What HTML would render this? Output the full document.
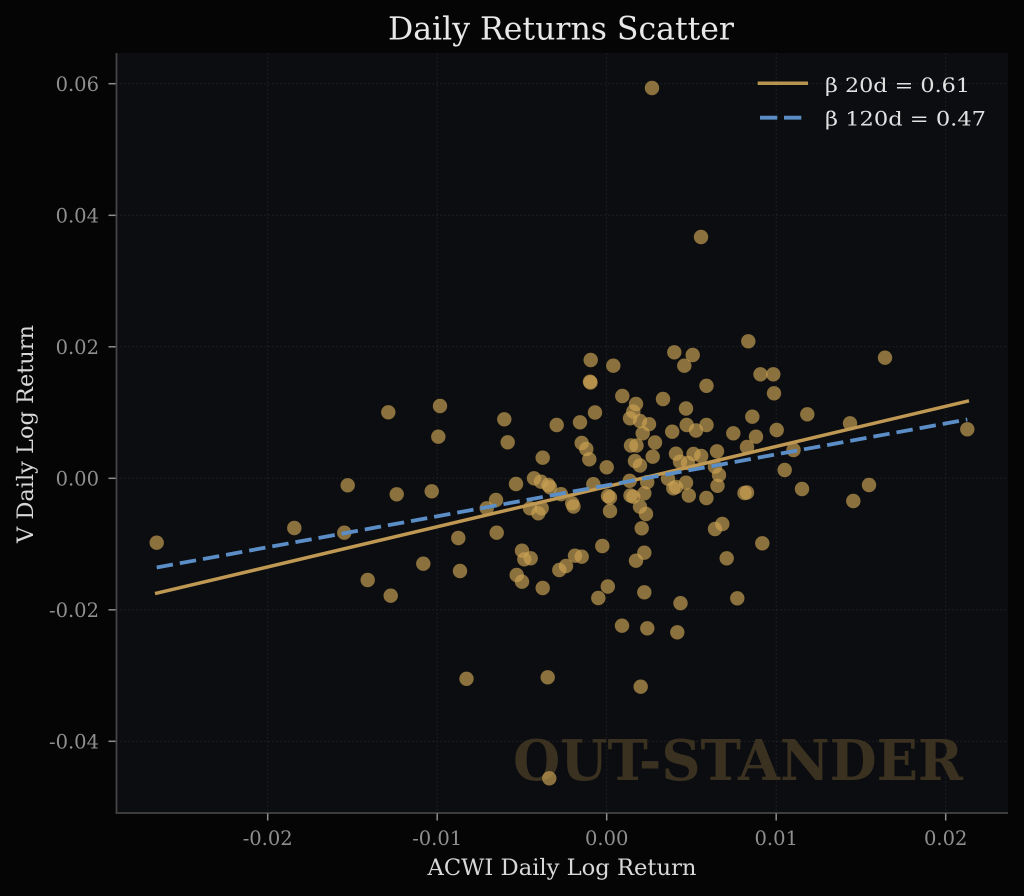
<!DOCTYPE html>
<html>
<head>
<meta charset="utf-8">
<style>
  html, body { margin: 0; padding: 0; background: #050505; }
  body { width: 1024px; height: 896px; overflow: hidden; }
  svg { display: block; }
  text { font-family: "DejaVu Serif", "Liberation Serif", serif; }
</style>
</head>
<body>
<svg width="1024" height="896" viewBox="0 0 1024 896" xmlns="http://www.w3.org/2000/svg">
  <rect x="0" y="0" width="1024" height="896" fill="#050505"/>
  <rect x="116.5" y="53" width="891.5" height="760" fill="#0c0d10"/>

  <g stroke="#222428" stroke-width="1" stroke-dasharray="1.5 2.5">
    <line x1="267.7" y1="53" x2="267.7" y2="813"/>
    <line x1="437.2" y1="53" x2="437.2" y2="813"/>
    <line x1="606.7" y1="53" x2="606.7" y2="813"/>
    <line x1="776.2" y1="53" x2="776.2" y2="813"/>
    <line x1="945.7" y1="53" x2="945.7" y2="813"/>
    <line x1="116.5" y1="83.7" x2="1008" y2="83.7"/>
    <line x1="116.5" y1="215.3" x2="1008" y2="215.3"/>
    <line x1="116.5" y1="346.8" x2="1008" y2="346.8"/>
    <line x1="116.5" y1="478.3" x2="1008" y2="478.3"/>
    <line x1="116.5" y1="609.8" x2="1008" y2="609.8"/>
    <line x1="116.5" y1="741.3" x2="1008" y2="741.3"/>
  </g>

  <text x="963" y="780" text-anchor="end" font-size="56" font-weight="bold" fill="#3a3120" textLength="450" lengthAdjust="spacingAndGlyphs">OUT-STANDER</text>

  <g fill="#c9a052" fill-opacity="0.68">
    <circle cx="156.7" cy="542.7" r="7.2"/>
    <circle cx="294.3" cy="528" r="7.2"/>
    <circle cx="347.7" cy="485.3" r="7.2"/>
    <circle cx="344.3" cy="532.7" r="7.2"/>
    <circle cx="388.3" cy="412.3" r="7.2"/>
    <circle cx="440" cy="406" r="7.2"/>
    <circle cx="438.3" cy="436.7" r="7.2"/>
    <circle cx="396.7" cy="494.3" r="7.2"/>
    <circle cx="431.7" cy="491.3" r="7.2"/>
    <circle cx="458.3" cy="538" r="7.2"/>
    <circle cx="423.3" cy="563.7" r="7.2"/>
    <circle cx="460" cy="571" r="7.2"/>
    <circle cx="367.7" cy="580" r="7.2"/>
    <circle cx="390.7" cy="595.7" r="7.2"/>
    <circle cx="466.5" cy="678.8" r="7.2"/>
    <circle cx="504.3" cy="419.3" r="7.2"/>
    <circle cx="507.7" cy="442.3" r="7.2"/>
    <circle cx="556.7" cy="425" r="7.2"/>
    <circle cx="580" cy="422.3" r="7.2"/>
    <circle cx="595" cy="412.5" r="7.2"/>
    <circle cx="622.3" cy="396" r="7.2"/>
    <circle cx="636" cy="404" r="7.2"/>
    <circle cx="633.3" cy="411.5" r="7.2"/>
    <circle cx="630" cy="418.3" r="7.2"/>
    <circle cx="640" cy="421" r="7.2"/>
    <circle cx="649" cy="424.2" r="7.2"/>
    <circle cx="642.7" cy="433.3" r="7.2"/>
    <circle cx="663" cy="399" r="7.2"/>
    <circle cx="686" cy="408.5" r="7.2"/>
    <circle cx="686.7" cy="425" r="7.2"/>
    <circle cx="696" cy="430.5" r="7.2"/>
    <circle cx="706.5" cy="425" r="7.2"/>
    <circle cx="672.2" cy="431.7" r="7.2"/>
    <circle cx="655" cy="442.5" r="7.2"/>
    <circle cx="631" cy="445.5" r="7.2"/>
    <circle cx="636.5" cy="445.5" r="7.2"/>
    <circle cx="581.7" cy="443" r="7.2"/>
    <circle cx="586.3" cy="449" r="7.2"/>
    <circle cx="589.3" cy="459.3" r="7.2"/>
    <circle cx="542.7" cy="457.7" r="7.2"/>
    <circle cx="606.7" cy="467.3" r="7.2"/>
    <circle cx="652.7" cy="456.7" r="7.2"/>
    <circle cx="635" cy="461" r="7.2"/>
    <circle cx="640" cy="465.5" r="7.2"/>
    <circle cx="676" cy="453.7" r="7.2"/>
    <circle cx="693.5" cy="454" r="7.2"/>
    <circle cx="701.2" cy="456" r="7.2"/>
    <circle cx="680" cy="461.7" r="7.2"/>
    <circle cx="688" cy="463" r="7.2"/>
    <circle cx="516" cy="484" r="7.2"/>
    <circle cx="534" cy="478.3" r="7.2"/>
    <circle cx="541" cy="481.7" r="7.2"/>
    <circle cx="548.3" cy="485" r="7.2"/>
    <circle cx="550" cy="487.3" r="7.2"/>
    <circle cx="593.3" cy="484.2" r="7.2"/>
    <circle cx="561" cy="494.2" r="7.2"/>
    <circle cx="496" cy="500" r="7.2"/>
    <circle cx="486.7" cy="508.3" r="7.2"/>
    <circle cx="530" cy="508.3" r="7.2"/>
    <circle cx="538.3" cy="513.3" r="7.2"/>
    <circle cx="541.7" cy="508.3" r="7.2"/>
    <circle cx="572.2" cy="503.3" r="7.2"/>
    <circle cx="573.5" cy="506.5" r="7.2"/>
    <circle cx="608" cy="496" r="7.2"/>
    <circle cx="610" cy="497.5" r="7.2"/>
    <circle cx="610" cy="511" r="7.2"/>
    <circle cx="630.5" cy="495.5" r="7.2"/>
    <circle cx="633.3" cy="496.7" r="7.2"/>
    <circle cx="644.3" cy="493.3" r="7.2"/>
    <circle cx="647.2" cy="482.2" r="7.2"/>
    <circle cx="629.7" cy="480.8" r="7.2"/>
    <circle cx="640" cy="506.7" r="7.2"/>
    <circle cx="646" cy="514" r="7.2"/>
    <circle cx="668" cy="478.7" r="7.2"/>
    <circle cx="673.3" cy="488.3" r="7.2"/>
    <circle cx="676" cy="487" r="7.2"/>
    <circle cx="686" cy="482.7" r="7.2"/>
    <circle cx="688.8" cy="495.5" r="7.2"/>
    <circle cx="706.4" cy="498" r="7.2"/>
    <circle cx="496.7" cy="532.7" r="7.2"/>
    <circle cx="522" cy="550.7" r="7.2"/>
    <circle cx="524.3" cy="559.3" r="7.2"/>
    <circle cx="530.7" cy="558.3" r="7.2"/>
    <circle cx="516.7" cy="575" r="7.2"/>
    <circle cx="522" cy="581.7" r="7.2"/>
    <circle cx="542.7" cy="588" r="7.2"/>
    <circle cx="559.3" cy="570" r="7.2"/>
    <circle cx="566" cy="566" r="7.2"/>
    <circle cx="575" cy="555.7" r="7.2"/>
    <circle cx="581.7" cy="556.7" r="7.2"/>
    <circle cx="602.3" cy="546" r="7.2"/>
    <circle cx="641.7" cy="528.3" r="7.2"/>
    <circle cx="636" cy="560.7" r="7.2"/>
    <circle cx="644.3" cy="552.7" r="7.2"/>
    <circle cx="607.8" cy="586.5" r="7.2"/>
    <circle cx="598.3" cy="598" r="7.2"/>
    <circle cx="644.3" cy="592.3" r="7.2"/>
    <circle cx="680.5" cy="603.2" r="7.2"/>
    <circle cx="622" cy="625.7" r="7.2"/>
    <circle cx="748.3" cy="341.3" r="7.2"/>
    <circle cx="674.3" cy="352.3" r="7.2"/>
    <circle cx="692.7" cy="355" r="7.2"/>
    <circle cx="684.3" cy="365.7" r="7.2"/>
    <circle cx="590.7" cy="360" r="7.2"/>
    <circle cx="613.3" cy="365.7" r="7.2"/>
    <circle cx="590" cy="381.7" r="7.2"/>
    <circle cx="590.5" cy="382.5" r="7.2"/>
    <circle cx="760.5" cy="374.3" r="7.2"/>
    <circle cx="773.3" cy="374.3" r="7.2"/>
    <circle cx="774" cy="393.3" r="7.2"/>
    <circle cx="706.5" cy="385.8" r="7.2"/>
    <circle cx="752.3" cy="416.7" r="7.2"/>
    <circle cx="756" cy="436.7" r="7.2"/>
    <circle cx="776.7" cy="430" r="7.2"/>
    <circle cx="733.3" cy="433.3" r="7.2"/>
    <circle cx="747" cy="447" r="7.2"/>
    <circle cx="793.5" cy="450" r="7.2"/>
    <circle cx="784.7" cy="470" r="7.2"/>
    <circle cx="802" cy="489" r="7.2"/>
    <circle cx="744.5" cy="493" r="7.2"/>
    <circle cx="747" cy="492.5" r="7.2"/>
    <circle cx="717.5" cy="485.8" r="7.2"/>
    <circle cx="719" cy="475" r="7.2"/>
    <circle cx="717" cy="451.3" r="7.2"/>
    <circle cx="885" cy="357.7" r="7.2"/>
    <circle cx="807.3" cy="414.3" r="7.2"/>
    <circle cx="850" cy="423.3" r="7.2"/>
    <circle cx="967.3" cy="429.3" r="7.2"/>
    <circle cx="869" cy="485" r="7.2"/>
    <circle cx="853.3" cy="501" r="7.2"/>
    <circle cx="722.3" cy="524" r="7.2"/>
    <circle cx="715" cy="529" r="7.2"/>
    <circle cx="762.3" cy="543.3" r="7.2"/>
    <circle cx="726.7" cy="558.3" r="7.2"/>
    <circle cx="737.3" cy="598.3" r="7.2"/>
    <circle cx="715" cy="466.7" r="7.2"/>
    <circle cx="647.3" cy="628.3" r="7.2"/>
    <circle cx="677.3" cy="632.3" r="7.2"/>
    <circle cx="547.7" cy="677.3" r="7.2"/>
    <circle cx="640.7" cy="686.7" r="7.2"/>
    <circle cx="549.3" cy="778.3" r="7.2"/>
    <circle cx="652" cy="88" r="7.2"/>
    <circle cx="701" cy="237" r="7.2"/>
  </g>

  <line x1="156.7" y1="593.2" x2="967.3" y2="401.2" stroke="#bf9853" stroke-width="3.5" stroke-linecap="square"/>
  <line x1="156.7" y1="567.5" x2="967.3" y2="419.5" stroke="#5b8ec6" stroke-width="3.8" stroke-dasharray="16.5 7"/>

  <line x1="116.5" y1="53" x2="116.5" y2="813.5" stroke="#454545" stroke-width="1.8"/>
  <line x1="115.6" y1="813" x2="1008" y2="813" stroke="#454545" stroke-width="1.8"/>

  <g stroke="#8e8e8e" stroke-width="1.5">
    <line x1="267.7" y1="813.5" x2="267.7" y2="820.5"/>
    <line x1="437.2" y1="813.5" x2="437.2" y2="820.5"/>
    <line x1="606.7" y1="813.5" x2="606.7" y2="820.5"/>
    <line x1="776.2" y1="813.5" x2="776.2" y2="820.5"/>
    <line x1="945.7" y1="813.5" x2="945.7" y2="820.5"/>
    <line x1="108.5" y1="83.7" x2="115.6" y2="83.7"/>
    <line x1="108.5" y1="215.3" x2="115.6" y2="215.3"/>
    <line x1="108.5" y1="346.8" x2="115.6" y2="346.8"/>
    <line x1="108.5" y1="478.3" x2="115.6" y2="478.3"/>
    <line x1="108.5" y1="609.8" x2="115.6" y2="609.8"/>
    <line x1="108.5" y1="741.3" x2="115.6" y2="741.3"/>
  </g>

  <g fill="#8f8f8f" font-size="19.5">
    <text x="267.7" y="845" text-anchor="middle">-0.02</text>
    <text x="437.2" y="845" text-anchor="middle">-0.01</text>
    <text x="606.7" y="845" text-anchor="middle">0.00</text>
    <text x="776.2" y="845" text-anchor="middle">0.01</text>
    <text x="945.7" y="845" text-anchor="middle">0.02</text>
    <text x="99" y="91" text-anchor="end">0.06</text>
    <text x="99" y="222.6" text-anchor="end">0.04</text>
    <text x="99" y="354.1" text-anchor="end">0.02</text>
    <text x="99" y="485.6" text-anchor="end">0.00</text>
    <text x="99" y="617.1" text-anchor="end">-0.02</text>
    <text x="99" y="748.6" text-anchor="end">-0.04</text>
  </g>

  <text x="562" y="875" text-anchor="middle" font-size="22.5" fill="#d8d8d8" textLength="269" lengthAdjust="spacingAndGlyphs">ACWI Daily Log Return</text>
  <text transform="translate(33,434) rotate(-90)" x="0" y="0" text-anchor="middle" font-size="22.5" fill="#d8d8d8" textLength="218" lengthAdjust="spacingAndGlyphs">V Daily Log Return</text>

  <text x="561" y="39.5" text-anchor="middle" font-size="31.5" fill="#e8e8e8" textLength="346" lengthAdjust="spacingAndGlyphs">Daily Returns Scatter</text>

  <line x1="757.7" y1="83.3" x2="808" y2="83.3" stroke="#b8944f" stroke-width="3.5"/>
  <line x1="760" y1="117.7" x2="801.3" y2="117.7" stroke="#5b8ec6" stroke-width="3.8" stroke-dasharray="17.3 6.7"/>
  <text x="825" y="92" font-size="19.5" fill="#e2e2e2" textLength="145" lengthAdjust="spacingAndGlyphs">β 20d = 0.61</text>
  <text x="825" y="125.5" font-size="19.5" fill="#e2e2e2" textLength="161" lengthAdjust="spacingAndGlyphs">β 120d = 0.47</text>
</svg>
</body>
</html>
